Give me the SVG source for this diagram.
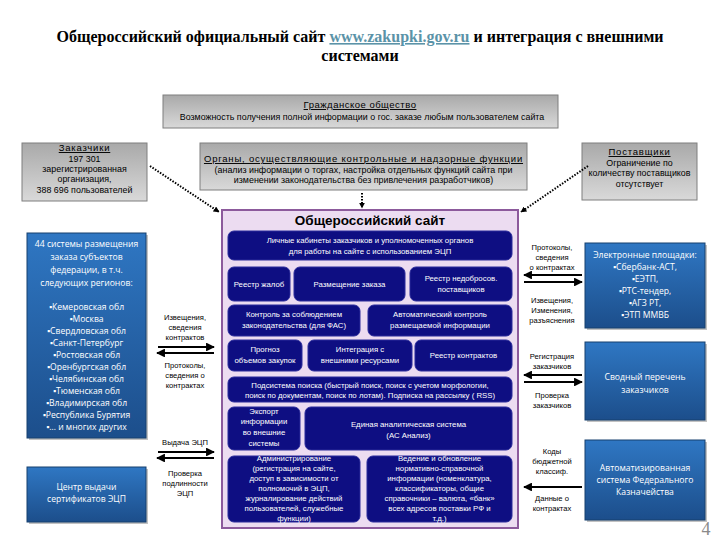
<svg xmlns="http://www.w3.org/2000/svg" width="720" height="540" viewBox="0 0 720 540">
<defs>
<linearGradient id="gGray" x1="0" y1="0" x2="0" y2="1"><stop offset="0" stop-color="#a9a9a9"/><stop offset="1" stop-color="#d9d9d9"/></linearGradient>
<linearGradient id="gBlue" x1="0" y1="0" x2="0" y2="1"><stop offset="0" stop-color="#2f77c3"/><stop offset="1" stop-color="#1c4e8b"/></linearGradient>
<marker id="ah" viewBox="0 0 10 10" refX="9" refY="5" markerWidth="4" markerHeight="4" orient="auto"><path d="M0,0 L10,5 L0,10 z" fill="#000"/></marker>
<marker id="ad" viewBox="0 0 10 10" refX="9" refY="5" markerWidth="3" markerHeight="3" orient="auto"><path d="M0,0 L10,5 L0,10 z" fill="#000"/></marker>
</defs>
<style>
.title{font-family:"Liberation Serif",serif;font-weight:bold;font-size:16px;fill:#000}
.gray{fill:url(#gGray);stroke:#7f7f7f;stroke-width:1}
.blue{fill:url(#gBlue);stroke:#16406f;stroke-width:1}
.shadow{fill:#9a9a9a;opacity:0.6}
.navy{fill:#0e0e82;stroke:#2a2a9a;stroke-width:1}
.g{font-family:"Liberation Sans",sans-serif;font-size:8.9px;fill:#000;text-anchor:middle}
.gh{font-family:"Liberation Sans",sans-serif;font-size:9.5px;fill:#000;text-anchor:middle;text-decoration:underline;letter-spacing:0.8px}
.w{font-family:"Open Sans","Liberation Sans",sans-serif;font-size:8.6px;fill:#fff;text-anchor:middle}
.n{font-family:"Liberation Sans",sans-serif;font-size:7.8px;fill:#fff;text-anchor:middle}
.l{font-family:"Liberation Sans",sans-serif;font-size:7.6px;fill:#000;text-anchor:middle}
.arr{stroke:#000;stroke-width:2.2;fill:none;marker-end:url(#ah)}
.dot{stroke:#000;stroke-width:2;stroke-dasharray:1.5 1.5;fill:none;marker-end:url(#ad)}
</style>
<rect width="720" height="540" fill="#fff"/>

<g id="title">
<text class="title" x="360" y="42" text-anchor="middle">Общероссийский официальный сайт <tspan fill="#5b93a8" text-decoration="underline">www.zakupki.gov.ru</tspan>  и интеграция с внешними</text>
<text class="title" x="360" y="61" text-anchor="middle">системами</text>
</g>

<g id="civil">
<rect class="gray" x="163" y="95" width="395" height="33"/>
<text class="gh" x="360" y="108" style="letter-spacing:0.5px">Гражданское общество</text>
<text class="g" x="362" y="120" font-size="8.4px">Возможность получения полной информации о гос. заказе любым пользователем сайта</text>
</g>

<g id="customers">
<rect class="gray" x="22" y="143" width="125" height="58"/>
<text class="gh" x="84.5" y="151">Заказчики</text>
<text class="g" x="84.5" y="162">197 301</text>
<text class="g" x="84.5" y="172">зарегистрированная</text>
<text class="g" x="84.5" y="182">организация,</text>
<text class="g" x="84.5" y="193">388 696 пользователей</text>
</g>

<g id="control">
<rect class="gray" x="200" y="143" width="327" height="47"/>
<text class="gh" x="363.5" y="162">Органы, осуществляющие контрольные и надзорные функции</text>
<text class="g" x="363.5" y="173">(анализ  информации о торгах, настройка отдельных функций сайта при</text>
<text class="g" x="363.5" y="183">изменении законодательства без привлечения разработчиков)</text>
</g>

<g id="suppliers">
<rect class="gray" x="582" y="143" width="115" height="57"/>
<text class="gh" x="639.5" y="155">Поставщики</text>
<text class="g" x="639.5" y="166">Ограничение по</text>
<text class="g" x="639.5" y="176">количеству поставщиков</text>
<text class="g" x="639.5" y="187">отсутствует</text>
</g>

<g id="site">
<rect x="222" y="210" width="296" height="318" fill="#ecdcf1" stroke="#8c5a9c" stroke-width="2"/>
<text x="370" y="225" text-anchor="middle" font-family="Liberation Sans, sans-serif" font-weight="bold" font-size="13.5px" fill="#000">Общероссийский сайт</text>
</g>

<g id="cabinets"><rect class="navy" x="228" y="231" width="284" height="29" rx="6"/>
<text class="n" x="370" y="243">Личные кабинеты заказчиков и уполномоченных органов</text>
<text class="n" x="370" y="254">для работы на сайте с использованием ЭЦП</text></g>

<g id="complaints"><rect class="navy" x="228" y="267" width="62" height="34" rx="6"/>
<text class="n" x="259" y="287">Реестр жалоб</text></g>
<g id="placement"><rect class="navy" x="294" y="267" width="111" height="34" rx="6"/>
<text class="n" x="349.5" y="287">Размещение заказа</text></g>
<g id="unfair"><rect class="navy" x="410" y="267" width="102" height="34" rx="6"/>
<text class="n" x="461" y="281">Реестр недобросов.</text>
<text class="n" x="461" y="292">поставщиков</text></g>

<g id="fas"><rect class="navy" x="228" y="305" width="132" height="31" rx="6"/>
<text class="n" x="294" y="317">Контроль за соблюдением</text>
<text class="n" x="294" y="328">законодательства (для ФАС)</text></g>
<g id="autocontrol"><rect class="navy" x="368" y="305" width="144" height="31" rx="6"/>
<text class="n" x="440" y="317">Автоматический  контроль</text>
<text class="n" x="440" y="328">размещаемой информации</text></g>

<g id="forecast"><rect class="navy" x="228" y="340" width="74" height="31" rx="6"/>
<text class="n" x="265" y="352">Прогноз</text>
<text class="n" x="265" y="363">объемов закупок</text></g>
<g id="integration"><rect class="navy" x="308" y="340" width="104" height="31" rx="6"/>
<text class="n" x="360" y="352">Интеграция с</text>
<text class="n" x="360" y="363">внешними ресурсами</text></g>
<g id="contracts"><rect class="navy" x="415" y="340" width="97" height="31" rx="6"/>
<text class="n" x="463.5" y="358">Реестр контрактов</text></g>

<g id="search"><rect class="navy" x="228" y="377" width="284" height="25" rx="6"/>
<text class="n" x="370" y="388">Подсистема поиска (быстрый поиск, поиск с учетом морфологии,</text>
<text class="n" x="370" y="398">поиск по документам, поиск по лотам). Подписка на рассылку ( RSS)</text></g>

<g id="export"><rect class="navy" x="228" y="407" width="72" height="43" rx="6"/>
<text class="n" x="264" y="414">Экспорт</text>
<text class="n" x="264" y="424">информации</text>
<text class="n" x="264" y="435">во внешние</text>
<text class="n" x="264" y="446">системы</text></g>
<g id="eas"><rect class="navy" x="305" y="407" width="207" height="43" rx="6"/>
<text class="n" x="408.5" y="427">Единая аналитическая система</text>
<text class="n" x="408.5" y="438">(АС Анализ)</text></g>

<g id="admin"><rect class="navy" x="228" y="456" width="132" height="66" rx="6"/>
<text class="n" x="294" y="461">Администрирование</text>
<text class="n" x="294" y="471">(регистрация на сайте,</text>
<text class="n" x="294" y="481">доступ в зависимости от</text>
<text class="n" x="294" y="491">полномочий в ЭЦП,</text>
<text class="n" x="294" y="501">журналирование действий</text>
<text class="n" x="294" y="511">пользователей, служебные</text>
<text class="n" x="294" y="521">функции)</text></g>
<g id="nsi"><rect class="navy" x="367" y="456" width="145" height="66" rx="6"/>
<text class="n" x="439.5" y="461">Ведение и обновление</text>
<text class="n" x="439.5" y="471">нормативно-справочной</text>
<text class="n" x="439.5" y="481">информации (номенклатура,</text>
<text class="n" x="439.5" y="491">классификаторы, общие</text>
<text class="n" x="439.5" y="501">справочники – валюта, «банк»</text>
<text class="n" x="439.5" y="511">всех адресов поставки РФ и</text>
<text class="n" x="439.5" y="521">т.д.)</text></g>

<g id="regions">
<rect class="shadow" x="29" y="235" width="119" height="205"/>
<rect class="blue" x="27" y="233" width="119" height="205"/>
<text class="w" x="86.5" y="247">44 системы размещения</text>
<text class="w" x="86.5" y="260">заказа субъектов</text>
<text class="w" x="86.5" y="273">федерации, в т.ч.</text>
<text class="w" x="86.5" y="286">следующих регионов:</text>
<text class="w" x="86.5" y="310">▪Кемеровская обл</text>
<text class="w" x="86.5" y="322">▪Москва</text>
<text class="w" x="86.5" y="334">▪Свердловская обл</text>
<text class="w" x="86.5" y="346">▪Санкт-Петербург</text>
<text class="w" x="86.5" y="358">▪Ростовская обл</text>
<text class="w" x="86.5" y="370">▪Оренбургская обл</text>
<text class="w" x="86.5" y="382">▪Челябинская обл</text>
<text class="w" x="86.5" y="394">▪Тюменская обл</text>
<text class="w" x="86.5" y="406">▪Владимирская обл</text>
<text class="w" x="86.5" y="418">▪Республика Бурятия</text>
<text class="w" x="86.5" y="430">▪… и многих других</text>
</g>

<g id="ca">
<rect class="shadow" x="29" y="469" width="119" height="55"/>
<rect class="blue" x="27" y="467" width="119" height="55"/>
<text class="w" x="86.5" y="490">Центр выдачи</text>
<text class="w" x="86.5" y="502">сертификатов ЭЦП</text>
</g>

<g id="etp">
<rect class="shadow" x="587" y="245" width="120" height="85"/>
<rect class="blue" x="585" y="243" width="120" height="85"/>
<text class="w" x="645" y="258">Электронные площадки:</text>
<text class="w" x="645" y="270">▪Сбербанк-АСТ,</text>
<text class="w" x="645" y="282">▪ЕЭТП,</text>
<text class="w" x="645" y="294">▪РТС-тендер,</text>
<text class="w" x="645" y="306">▪АГЗ РТ,</text>
<text class="w" x="645" y="318">▪ЭТП ММВБ</text>
</g>

<g id="registry">
<rect class="shadow" x="587" y="344" width="120" height="78"/>
<rect class="blue" x="585" y="342" width="120" height="78"/>
<text class="w" x="645" y="380">Сводный перечень</text>
<text class="w" x="645" y="393">заказчиков</text>
</g>

<g id="treasury">
<rect class="shadow" x="587" y="442" width="120" height="80"/>
<rect class="blue" x="585" y="440" width="120" height="80"/>
<text class="w" x="645" y="471">Автоматизированная</text>
<text class="w" x="645" y="483">система Федерального</text>
<text class="w" x="645" y="495">Казначейства</text>
</g>

<g id="labels">
<text class="l" x="185" y="320">Извещения,</text>
<text class="l" x="185" y="330">сведения</text>
<text class="l" x="185" y="340">контрактов</text>
<text class="l" x="185" y="368">Протоколы,</text>
<text class="l" x="185" y="378">сведения о</text>
<text class="l" x="185" y="388">контрактах</text>
<text class="l" x="185" y="445">Выдача ЭЦП</text>
<text class="l" x="185" y="476">Проверка</text>
<text class="l" x="185" y="486">подлинности</text>
<text class="l" x="185" y="496">ЭЦП</text>
<text class="l" x="552" y="250">Протоколы,</text>
<text class="l" x="552" y="260">сведения</text>
<text class="l" x="552" y="270">о контрактах</text>
<text class="l" x="552" y="303">Извещения,</text>
<text class="l" x="552" y="313">Изменения,</text>
<text class="l" x="552" y="323">разъяснения</text>
<text class="l" x="552" y="359">Регистрация</text>
<text class="l" x="552" y="369">заказчиков</text>
<text class="l" x="552" y="398">Проверка</text>
<text class="l" x="552" y="408">заказчиков</text>
<text class="l" x="552" y="454">Коды</text>
<text class="l" x="552" y="464">бюджетной</text>
<text class="l" x="552" y="474">классиф.</text>
<text class="l" x="552" y="501">Данные о</text>
<text class="l" x="552" y="511">контрактах</text>
</g>

<g id="connectors">
<line class="arr" x1="158" y1="347" x2="214" y2="347"/>
<line class="arr" x1="214" y1="353" x2="157" y2="353"/>
<line class="arr" x1="158" y1="452" x2="214" y2="452"/>
<line class="arr" x1="214" y1="458" x2="157" y2="458"/>
<line class="arr" x1="582" y1="275" x2="524" y2="275"/>
<line class="arr" x1="524" y1="282" x2="582" y2="282"/>
<line class="arr" x1="582" y1="375" x2="524" y2="375"/>
<line class="arr" x1="524" y1="382" x2="582" y2="382"/>
<line class="arr" x1="582" y1="487" x2="524" y2="487"/>
<line class="dot" x1="150" y1="166" x2="219" y2="212"/>
<line class="dot" x1="588" y1="166" x2="521" y2="212"/>
<line class="dot" x1="362" y1="193" x2="362" y2="208"/>
</g>

<text x="706" y="535" text-anchor="middle" font-family="Liberation Serif, serif" font-size="18px" fill="#8a8a8a">4</text>
</svg>
